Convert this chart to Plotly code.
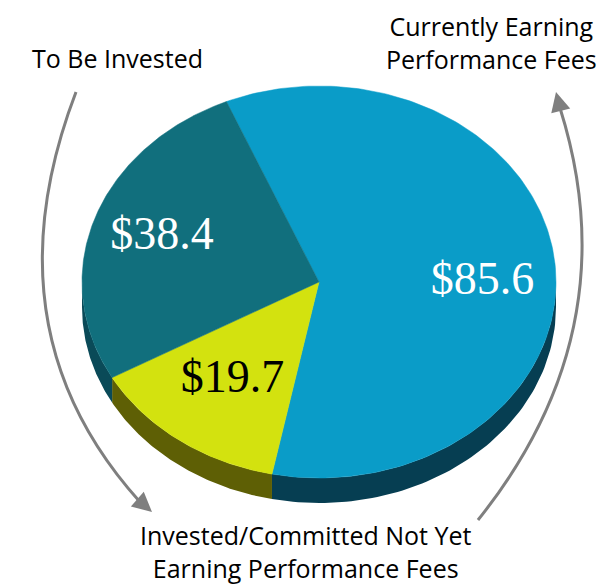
import numpy as np
import plotly.graph_objects as go

labels = ["Currently Earning Performance Fees", "Invested/Committed Not Yet Earning Performance Fees", "To Be Invested"]
values = [85.6, 19.7, 38.4]
value_text = ["$85.6", "$19.7", "$38.4"]
top_colors = ["#0a9cc8", "#d3e20f", "#116f7d"]
side_colors = ["#063e52", "#5e5f05", "#0a4a58"]
text_colors = ["white", "black", "white"]

# page body has an 8px margin: axes are offset so data units equal screen pixels
OFF = 8
W, H = 605, 586
cx, cy, a, b, depth = 319, 282, 237, 196, 25
start_angle = -23.0  # degrees clockwise from 12 o'clock

def ell(t_deg, dy=0.0):
    t = np.radians(t_deg)
    return cx + a * np.sin(t), cy - b * np.cos(t) + dy

total = sum(values)
bounds = [start_angle]
for v in values:
    bounds.append(bounds[-1] + 360.0 * v / total)

fig = go.Figure()

# side faces (visible front half: 90..270 deg)
for i, v in enumerate(values):
    for off in (0.0, 360.0):
        s1, s2 = max(bounds[i] - off, 90.0), min(bounds[i + 1] - off, 270.0)
        if s2 <= s1:
            continue
        ts = np.linspace(s1, s2, 80)
        xt, yt = ell(ts)
        xb, yb = ell(ts[::-1], depth)
        fig.add_trace(go.Scatter(
            x=np.concatenate([xt, xb, xt[:1]]), y=np.concatenate([yt, yb, yt[:1]]),
            mode="lines", fill="toself", fillcolor=side_colors[i],
            line=dict(width=0, color=side_colors[i]), hoverinfo="skip", showlegend=False))

# top faces
for i, v in enumerate(values):
    ts = np.linspace(bounds[i], bounds[i + 1], 200)
    xs, ys = ell(ts)
    fig.add_trace(go.Scatter(
        x=np.concatenate([[cx], xs, [cx]]), y=np.concatenate([[cy], ys, [cy]]),
        mode="lines", fill="toself", fillcolor=top_colors[i],
        line=dict(width=0.5, color=top_colors[i]), name=labels[i],
        hoverinfo="name", showlegend=False))

# value labels near slice mid-angles
mids = [(bounds[i] + bounds[i + 1]) / 2 for i in range(len(values))]
ang_shift = [6, 0, 0]
rf = [0.69, 0.62, 0.70]
tx = [cx + rf[i] * a * np.sin(np.radians(m + ang_shift[i])) for i, m in enumerate(mids)]
ty = [cy - rf[i] * b * np.cos(np.radians(m + ang_shift[i])) for i, m in enumerate(mids)]
fig.add_trace(go.Scatter(
    x=tx, y=ty, mode="text", text=value_text,
    textfont=dict(family="Liberation Serif", size=46, color=text_colors),
    hoverinfo="skip", showlegend=False))

gray = "#7f7f7f"
lab_font = dict(family="Open Sans", size=25, color="black")
fig.add_annotation(x=117, y=58, text="To Be Invested", showarrow=False, font=lab_font)
fig.add_annotation(x=491, y=42, text="Currently Earning<br>Performance Fees", showarrow=False, font=lab_font)
fig.add_annotation(x=305, y=551, text="Invested/Committed Not Yet<br>Earning Performance Fees", showarrow=False, font=lab_font)

fig.add_shape(type="path", path="M 76 92 Q -15 330 140 502", line=dict(color=gray, width=3), xref="x", yref="y")
fig.add_shape(type="path", path="M 478 520 Q 630 330 560 108", line=dict(color=gray, width=3), xref="x", yref="y")
fig.add_annotation(x=152, y=512, ax=136, ay=498, axref="x", ayref="y", xref="x", yref="y",
                   showarrow=True, arrowhead=2, arrowsize=1.3, arrowwidth=3, arrowcolor=gray, text="")
fig.add_annotation(x=556, y=92, ax=561, ay=112, axref="x", ayref="y", xref="x", yref="y",
                   showarrow=True, arrowhead=2, arrowsize=1.3, arrowwidth=3, arrowcolor=gray, text="")

fig.update_layout(
    width=W - OFF, height=H - OFF, margin=dict(l=0, r=0, t=0, b=0),
    paper_bgcolor="white", plot_bgcolor="white",
    xaxis=dict(range=[OFF, W], visible=False, fixedrange=True),
    yaxis=dict(range=[H, OFF], visible=False, fixedrange=True),
)
fig.write_html("out.html")
